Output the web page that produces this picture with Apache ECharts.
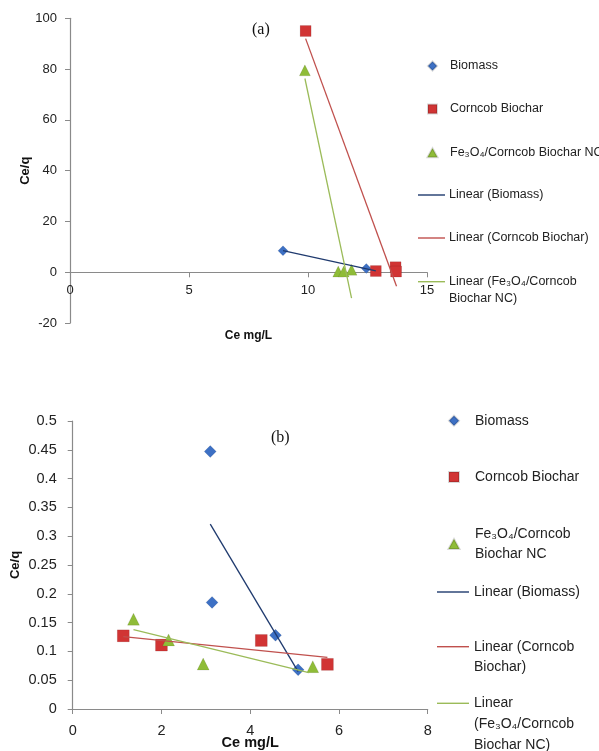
<!DOCTYPE html>
<html>
<head>
<meta charset="utf-8">
<script src="https://cdn.jsdelivr.net/npm/echarts@6/dist/echarts.min.js"></script>
<style>
html,body{margin:0;padding:0;background:#fff;}
#c{width:599px;height:751px;}
</style>
</head>
<body>
<div id="c"></div>
<script>
// ---------- Data: chart (a) ----------
const aBiomassX = [8.95, 12.45];
const aBiomassY = [8.5, 1.5];
const aCorncobX = [9.9, 12.85, 13.68, 13.7];
const aCorncobY = [95, 0.5, 2.0, 0.3];
const aFeX = [9.87, 11.27, 11.5, 11.83];
const aFeY = [79.5, 0.3, 0.3, 1.0];
// trendline end points (x, y)
const aBiomassFitX = [8.95, 12.85];
const aBiomassFitY = [8.5, 0.6];
const aCorncobFitX = [9.9, 13.72];
const aCorncobFitY = [92, -5.5];
const aFeFitX = [9.87, 11.83];
const aFeFitY = [76.3, -10.2];

// ---------- Data: chart (b) ----------
const bBiomassX = [3.1, 3.14, 4.57, 5.08];
const bBiomassY = [0.447, 0.185, 0.128, 0.068];
const bCorncobX = [1.14, 2.0, 4.25, 5.74];
const bCorncobY = [0.127, 0.111, 0.119, 0.0775];
const bFeX = [1.37, 2.16, 2.94, 5.41];
const bFeY = [0.156, 0.12, 0.078, 0.0735];
const bBiomassFitX = [3.1, 5.08];
const bBiomassFitY = [0.321, 0.065];
const bCorncobFitX = [1.14, 5.74];
const bCorncobFitY = [0.1256, 0.0897];
const bFeFitX = [1.37, 5.32];
const bFeFitY = [0.138, 0.063];

// axis ticks
const aXTicks = {min: 0, max: 15, interval: 5};
const aYTicks = {min: -20, max: 100, interval: 20};
const bXTicks = {min: 0, max: 8, interval: 2};
const bYTicks = {min: 0, max: 0.5, interval: 0.05};

const legendNames = {
  biomass: 'Biomass',
  corncob: 'Corncob Biochar',
  fe: 'Fe\u2083O\u2084/Corncob Biochar NC',
  feB: 'Fe\u2083O\u2084/Corncob\nBiochar NC',
  linBiomass: 'Linear (Biomass)',
  linCorncob: 'Linear (Corncob Biochar)',
  linCorncobB: 'Linear (Corncob\nBiochar)',
  linFeA: 'Linear (Fe\u2083O\u2084/Corncob\nBiochar NC)',
  linFeB: 'Linear\n(Fe\u2083O\u2084/Corncob\nBiochar NC)'
};

const zip = (xs, ys) => xs.map((x, i) => [x, ys[i]]);

const C_BLUE = '#3D70C4', C_RED = '#D13434', C_GREEN = '#8FBC38';
const L_BLUE = '#1F3A6E', L_RED = '#C0504D', L_GREEN = '#9BBB59';
const FONT = '"Liberation Sans", Arial, sans-serif';
const AXIS_COLOR = '#8a8a8a';

function scatter(id, xi, xs, ys, symbol, size, color) {
  return {
    id: id, name: id, type: 'scatter', xAxisIndex: xi, yAxisIndex: xi,
    data: zip(xs, ys), symbol: symbol, symbolSize: size,
    itemStyle: {color: color, borderColor: 'rgba(0,0,0,0.15)', borderWidth: 0.6, opacity: 1},
    z: 3, silent: true
  };
}
function fit(id, xi, xs, ys, color, w) {
  return {
    id: id, name: id, type: 'line', xAxisIndex: xi, yAxisIndex: xi,
    data: zip(xs, ys), symbol: 'none', lineStyle: {color: color, width: w},
    itemStyle: {color: color}, z: 4, silent: true, animation: false
  };
}

const labelMap = {
  'a_bio': legendNames.biomass, 'a_cor': legendNames.corncob, 'a_fe': legendNames.fe,
  'a_lbio': legendNames.linBiomass, 'a_lcor': legendNames.linCorncob, 'a_lfe': legendNames.linFeA,
  'b_bio': legendNames.biomass, 'b_cor': legendNames.corncob, 'b_fe': legendNames.feB,
  'b_lbio': legendNames.linBiomass, 'b_lcor': legendNames.linCorncobB, 'b_lfe': legendNames.linFeB
};

// one legend component per entry, so each sits where the reference puts it
// o.cx: icon centre x, o.tx: text start x, o.w / o.h: icon size
// alignFirst: the icon lines up with the first text line (blank lines are prepended
// so that the vertically centred text block puts its first real line at the icon)
function legendItem(name, cy, o) {
  const text = labelMap[name];
  const n = text.split('\n').length;
  const L = o.lineHeight;
  const extra = o.alignFirst ? n - 1 : 0;
  const left = o.cx - o.w / 2;
  const padLeft = o.tx - (left + o.w + 5);
  const boxH = Math.max((n + extra) * L, o.h);
  return {
    data: [name], left: left, top: cy - boxH / 2, orient: 'vertical', padding: 0,
    itemWidth: o.w, itemHeight: o.h, icon: o.icon, selectedMode: false,
    formatter: nm => ' \n'.repeat(extra) + labelMap[nm],
    textStyle: {fontFamily: FONT, fontSize: o.fontSize, lineHeight: L, color: '#222',
      padding: [0, 0, 0, padLeft]}
  };
}

const aLeg = {cx: 431.5, tx: 449, fontSize: 12.5, lineHeight: 16.5};
const bLeg = {cx: 453, tx: 474, fontSize: 14, lineHeight: 20.7};
const mk = (base, extra) => Object.assign({}, base, extra);

const legends = [
  legendItem('a_bio', 66, mk(aLeg, {icon: 'diamond', w: 9, h: 9})),
  legendItem('a_cor', 109, mk(aLeg, {icon: 'rect', w: 9, h: 9})),
  legendItem('a_fe', 152.7, mk(aLeg, {icon: 'triangle', w: 10, h: 9})),
  legendItem('a_lbio', 195, mk(aLeg, {icon: 'rect', w: 27, h: 1.4, alignFirst: true})),
  legendItem('a_lcor', 238, mk(aLeg, {icon: 'rect', w: 27, h: 1.4, alignFirst: true})),
  legendItem('a_lfe', 281.7, mk(aLeg, {icon: 'rect', w: 27, h: 1.4, alignFirst: true})),
  legendItem('b_bio', 420.7, mk(bLeg, {icon: 'diamond', w: 10, h: 10})),
  legendItem('b_cor', 477, mk(bLeg, {icon: 'rect', w: 10, h: 10})),
  legendItem('b_fe', 544, mk(bLeg, {icon: 'triangle', w: 11, h: 10})),
  legendItem('b_lbio', 592, mk(bLeg, {icon: 'rect', w: 32, h: 1.4, alignFirst: true})),
  legendItem('b_lcor', 646.7, mk(bLeg, {icon: 'rect', w: 32, h: 1.4, alignFirst: true})),
  legendItem('b_lfe', 703.3, mk(bLeg, {icon: 'rect', w: 32, h: 1.4, alignFirst: true}))
];

function xAxis(gi, t, fs, margin, nameSize, nameGap) {
  return {
    type: 'value', gridIndex: gi, min: t.min, max: t.max, interval: t.interval,
    name: 'Ce mg/L', nameLocation: 'middle', nameGap: nameGap, nameMoveOverlap: false,
    nameTextStyle: {fontFamily: FONT, fontWeight: 'bold', fontSize: nameSize, color: '#111'},
    axisLine: {show: true, onZero: true, lineStyle: {color: AXIS_COLOR, width: 1.2}},
    axisTick: {show: true, length: 5, inside: false, lineStyle: {color: AXIS_COLOR}},
    axisLabel: {fontFamily: FONT, fontSize: fs, color: '#222', margin: margin, showMinLabel: true, showMaxLabel: true},
    splitLine: {show: false}
  };
}
function yAxis(gi, t, fs, nameGap, margin, fmt) {
  return {
    type: 'value', gridIndex: gi, min: t.min, max: t.max, interval: t.interval,
    name: 'Ce/q', nameLocation: 'middle', nameGap: nameGap, nameRotate: 90, nameMoveOverlap: false,
    nameTextStyle: {fontFamily: FONT, fontWeight: 'bold', fontSize: 13, color: '#111'},
    axisLine: {show: true, onZero: false, lineStyle: {color: AXIS_COLOR, width: 1.2}},
    axisTick: {show: true, length: 5, lineStyle: {color: AXIS_COLOR}},
    axisLabel: {fontFamily: FONT, fontSize: fs, color: '#222', margin: margin, formatter: fmt},
    splitLine: {show: false}
  };
}

const option = {
  backgroundColor: '#fff',
  animation: false,
  grid: [
    {left: 70, right: 172, top: 18.3, bottom: 751 - 323.1, containLabel: false, outerBoundsMode: 'none'},
    {left: 72.7, right: 171.3, top: 421, bottom: 42, containLabel: false, outerBoundsMode: 'none'}
  ],
  xAxis: [
    xAxis(0, aXTicks, 13, -39, 12, 7),
    xAxis(1, bXTicks, 14.5, 14, 14.5, 26)
  ],
  yAxis: [
    yAxis(0, aYTicks, 13, 38.5, 13, v => String(v)),
    yAxis(1, bYTicks, 14.5, 51, 16, v => String(Math.round(v * 100) / 100))
  ],
  legend: legends,
  graphic: [
    {type: 'text', left: 252, top: 22, style: {text: '(a)', font: '16px "Liberation Serif", "Times New Roman", serif', fill: '#111'}},
    {type: 'text', left: 271, top: 430, style: {text: '(b)', font: '16px "Liberation Serif", "Times New Roman", serif', fill: '#111'}}
  ],
  series: [
    scatter('a_bio', 0, aBiomassX, aBiomassY, 'diamond', 10, C_BLUE),
    scatter('a_cor', 0, aCorncobX, aCorncobY, 'rect', 11, C_RED),
    scatter('a_fe', 0, aFeX, aFeY, 'triangle', 11, C_GREEN),
    fit('a_lbio', 0, aBiomassFitX, aBiomassFitY, L_BLUE, 1.3),
    fit('a_lcor', 0, aCorncobFitX, aCorncobFitY, L_RED, 1.3),
    fit('a_lfe', 0, aFeFitX, aFeFitY, L_GREEN, 1.3),
    scatter('b_bio', 1, bBiomassX, bBiomassY, 'diamond', 12, C_BLUE),
    scatter('b_cor', 1, bCorncobX, bCorncobY, 'rect', 12, C_RED),
    scatter('b_fe', 1, bFeX, bFeY, 'triangle', 12, C_GREEN),
    fit('b_lbio', 1, bBiomassFitX, bBiomassFitY, L_BLUE, 1.3),
    fit('b_lcor', 1, bCorncobFitX, bCorncobFitY, L_RED, 1.3),
    fit('b_lfe', 1, bFeFitX, bFeFitY, L_GREEN, 1.3)
  ]
};

const chart = echarts.init(document.getElementById('c'), null, {renderer: 'canvas'});
chart.setOption(option);
</script>
</body>
</html>
